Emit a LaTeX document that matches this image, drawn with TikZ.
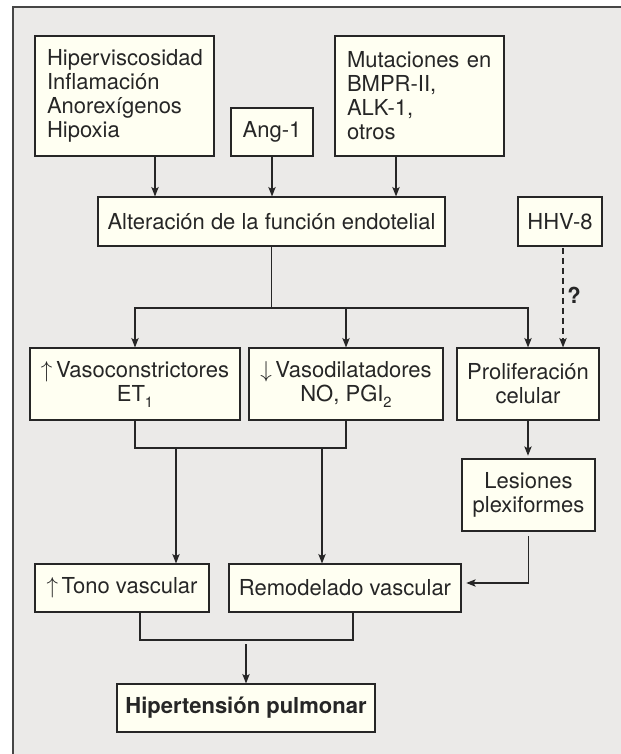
\documentclass[tikz,border=0pt]{standalone}
\usepackage{fontspec}
\setmainfont{TeX Gyre Heros}
\usetikzlibrary{arrows.meta,calc}

\definecolor{panelgray}{RGB}{235,234,232}
\definecolor{boxcream}{RGB}{255,255,242}
\definecolor{inkgray}{RGB}{38,38,38}
\definecolor{framegray}{RGB}{70,70,70}

\newcommand{\lowsub}[1]{\raisebox{-4.5pt}{\fontsize{11}{12}\selectfont #1}}

\tikzset{every picture/.style={line width=0.75pt}}
\tikzset{
  boxsize/.style 2 args={minimum width=#1*0.75pt, minimum height=#2*0.75pt},
  flowbox/.style={draw=inkgray, fill=boxcream, line width=0.9pt, inner sep=0pt, align=center,
    text=inkgray, font=\fontsize{16.5}{18}\selectfont},
  leftbox/.style={flowbox, align=left, inner xsep=12*0.75pt, text width=#1*0.75pt},
  flowline/.style={draw=inkgray, line width=0.9pt},
  flowarrow/.style={flowline, -{Stealth[length=7pt,width=5.5pt,inset=1.5pt]}},
}

\begin{document}
\begin{tikzpicture}[x=0.75pt,y=0.75pt,yscale=-1,xscale=1]
\useasboundingbox (0,0) rectangle (621,754);
\clip (0,0) rectangle (621,754);

%Shape: Rectangle (panel)
\draw [draw=framegray, line width=1.1pt, fill=panelgray] (13,7) rectangle (640,780) ;

% Text Node
\node [leftbox=155, boxsize={179}{120}] (causas) at (124.5,96) {Hiperviscosidad\\Inflamación\\Anorexígenos\\Hipoxia};
% Text Node
\node [flowbox, boxsize={82}{48}] (ang) at (272,132) {Ang-1};
% Text Node
\node [leftbox=145, boxsize={169}{120}] (mutac) at (419.5,96) {Mutaciones en\\BMPR-II,\\ALK-1,\\otros};
% Text Node
\node [flowbox, boxsize={347}{49}] (endot) at (271.5,221.5) {Alteración de la función endotelial};
% Text Node
\node [flowbox, boxsize={84}{49}] (hhv) at (560,221.5) {HHV-8};
% Text Node
\node [flowbox, boxsize={210}{72}] (vasoc) at (135,384) {$\uparrow$\,Vasoconstrictores\\ET\lowsub{1}};
% Text Node
\node [flowbox, boxsize={194}{72}] (vasod) at (346,384) {$\downarrow$\,Vasodilatadores\\NO, PGI\lowsub{2}};
% Text Node
\node [flowbox, boxsize={142}{72}] (prolif) at (528,384) {Proliferación\\celular};
% Text Node
\node [flowbox, boxsize={133}{72}] (lesion) at (528.5,495) {Lesiones\\plexiformes};
% Text Node
\node [flowbox, boxsize={174}{48}] (tono) at (122,588) {$\uparrow$\,Tono vascular};
% Text Node
\node [flowbox, boxsize={232}{48}] (remod) at (345,588) {Remodelado vascular};
% Text Node
\node [flowbox, boxsize={258}{48}, font=\fontsize{16.5}{18}\selectfont\bfseries] (hpul) at (246,708) {Hipertensión pulmonar};
% Text Node
\node [text=inkgray, font=\fontsize{16.5}{18}\selectfont\bfseries] (duda) at (574,295) {?};

% helper coordinates
\coordinate (c1) at (155,0);
\coordinate (c3) at (396,0);
\coordinate (rama) at (271.5,308);
\coordinate (q) at (563,0);
\coordinate (u1) at (0,448);
\coordinate (d1) at (176,448);
\coordinate (d2) at (322,448);
\coordinate (r1) at (0,583);
\coordinate (w1) at (140,640);
\coordinate (w2) at (353,640);

%Straight Lines
\draw [flowarrow] (causas.south -| c1) -- (endot.north -| c1) ;
\draw [flowarrow] (ang.south) -- (endot.north -| ang.south) ;
\draw [flowarrow] (mutac.south -| c3) -- (endot.north -| c3) ;

%Straight Lines
\draw [flowline] (endot.south) -- (rama) ;
\draw [flowarrow] (rama) -| (vasoc.north) ;
\draw [flowarrow] (rama) -| (prolif.north) ;
\draw [flowarrow] (rama -| vasod.north) -- (vasod.north) ;
\draw [flowarrow, dash pattern=on 4.5pt off 3pt, shorten <=1pt] (hhv.south -| q) -- (prolif.north -| q) ;

%Straight Lines
\draw [flowline] (vasoc.south) |- (u1 -| vasod.south) -- (vasod.south) ;
\draw [flowarrow] (d1) -- (tono.north -| d1) ;
\draw [flowarrow] (d2) -- (remod.north -| d2) ;

%Straight Lines
\draw [flowarrow, shorten >=2pt] (prolif.south) -- (lesion.north -| prolif.south) ;
\draw [flowarrow, shorten <=3.5pt, shorten >=3.5pt] (lesion.south) |- (remod.east |- r1) ;

%Straight Lines
\draw [flowline] (tono.south -| w1) -- (w1) -- (w2) -- (remod.south -| w2) ;
\draw [flowarrow, shorten <=3pt] (hpul.north |- w1) -- (hpul.north) ;

\end{tikzpicture}
\end{document}
